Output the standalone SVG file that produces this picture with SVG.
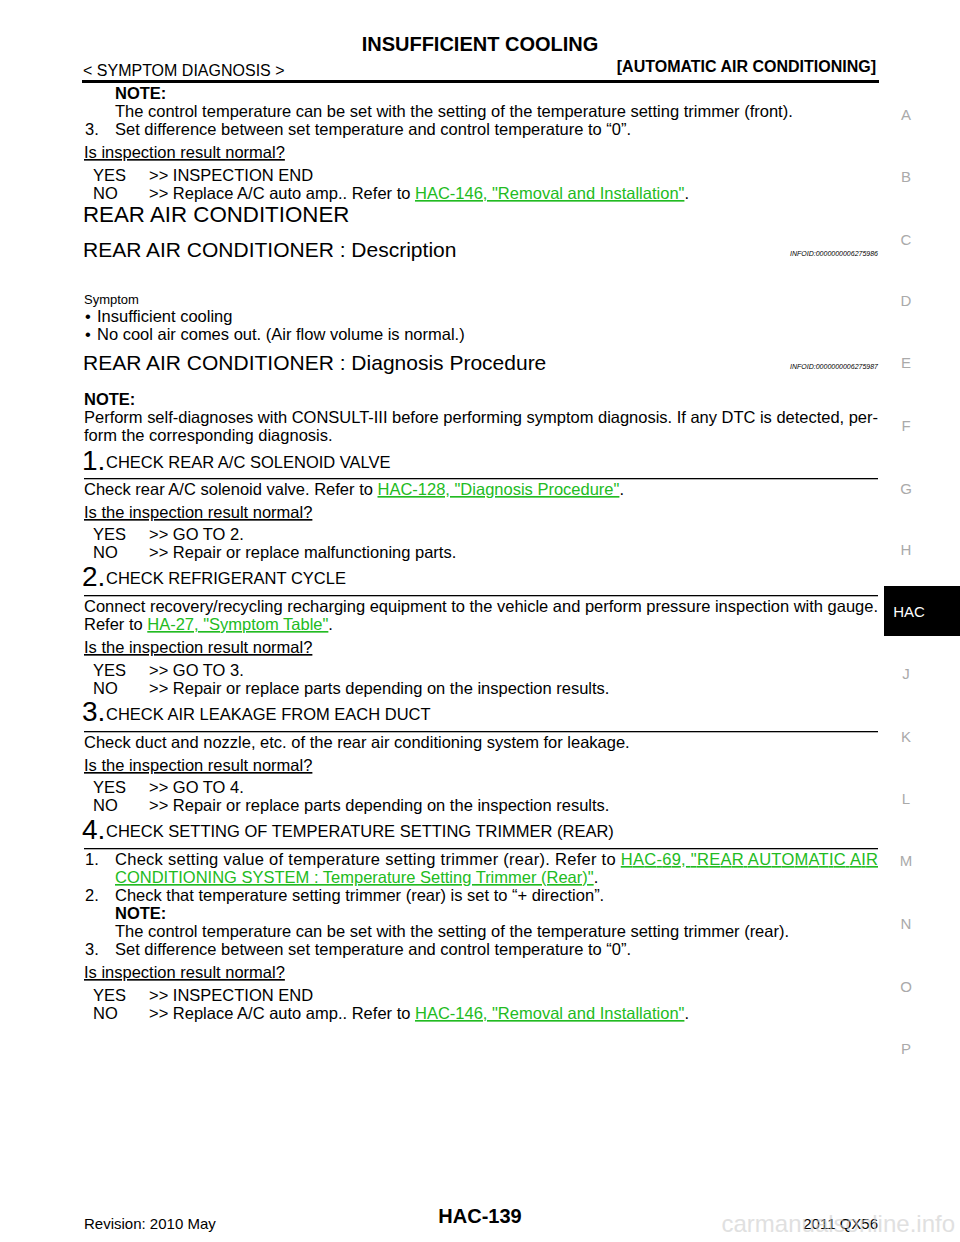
<svg xmlns="http://www.w3.org/2000/svg" width="960" height="1242" viewBox="0 0 960 1242">
<style>
text{font-family:"Liberation Sans",Arial,sans-serif;fill:#000}
.b{font-size:16.5px}
.bb{font-size:16.5px;font-weight:bold}
.h1{font-size:22.3px}
.h2{font-size:21px}
.link{fill:#22bb22;text-decoration:underline}
.u{text-decoration:underline}
.side{font-size:15px;fill:#aaa}
.num{font-size:28px}
.info{font-size:7px;font-style:italic}
</style>
<rect width="960" height="1242" fill="#fff"/>
<g id="header">
<text x="480" y="51" text-anchor="middle" font-size="20" font-weight="bold">INSUFFICIENT COOLING</text>
<text x="83" y="76" font-size="16">&lt; SYMPTOM DIAGNOSIS &gt;</text>
<text x="876" y="72" text-anchor="end" font-size="16" font-weight="bold">[AUTOMATIC AIR CONDITIONING]</text>
<rect x="82" y="80" width="797" height="3" fill="#000"/>
</g>
<g id="side">
<text class="side" x="906" y="120" text-anchor="middle">A</text>
<text class="side" x="906" y="182" text-anchor="middle">B</text>
<text class="side" x="906" y="245" text-anchor="middle">C</text>
<text class="side" x="906" y="306" text-anchor="middle">D</text>
<text class="side" x="906" y="368" text-anchor="middle">E</text>
<text class="side" x="906" y="431" text-anchor="middle">F</text>
<text class="side" x="906" y="494" text-anchor="middle">G</text>
<text class="side" x="906" y="555" text-anchor="middle">H</text>
<rect x="884" y="586" width="76" height="50" fill="#000"/>
<text x="909" y="617" text-anchor="middle" font-size="15" style="fill:#fff">HAC</text>
<text class="side" x="906" y="679" text-anchor="middle">J</text>
<text class="side" x="906" y="742" text-anchor="middle">K</text>
<text class="side" x="906" y="804" text-anchor="middle">L</text>
<text class="side" x="906" y="866" text-anchor="middle">M</text>
<text class="side" x="906" y="929" text-anchor="middle">N</text>
<text class="side" x="906" y="992" text-anchor="middle">O</text>
<text class="side" x="906" y="1054" text-anchor="middle">P</text>
</g>
<g id="body">
<text class="bb" x="115" y="99">NOTE:</text>
<text class="b" x="115" y="117">The control temperature can be set with the setting of the temperature setting trimmer (front).</text>
<text class="b" x="85" y="135">3.</text><text class="b" x="115" y="135">Set difference between set temperature and control temperature to “0”.</text>
<text class="b u" x="84" y="158">Is inspection result normal?</text>
<text class="b" x="93" y="181">YES</text><text class="b" x="149" y="181">&gt;&gt; INSPECTION END</text>
<text class="b" x="93" y="199">NO</text><text class="b" x="149" y="199">&gt;&gt; Replace A/C auto amp.. Refer to <tspan class="link">HAC-146, "Removal and Installation"</tspan>.</text>
<text class="h1" x="83" y="222">REAR AIR CONDITIONER</text>
<text class="h2" x="83" y="257">REAR AIR CONDITIONER : Description</text>
<text class="info" x="878" y="256" text-anchor="end">INFOID:0000000006275986</text>
<text x="84" y="304" font-size="13">Symptom</text>
<text class="b" x="85" y="322">•</text><text class="b" x="97" y="322">Insufficient cooling</text>
<text class="b" x="85" y="340">•</text><text class="b" x="97" y="340">No cool air comes out. (Air flow volume is normal.)</text>
<text class="h2" x="83" y="370">REAR AIR CONDITIONER : Diagnosis Procedure</text>
<text class="info" x="878" y="369" text-anchor="end">INFOID:0000000006275987</text>
<text class="bb" x="84" y="405">NOTE:</text>
<text class="b" x="84" y="423" textLength="794" lengthAdjust="spacing">Perform self-diagnoses with CONSULT-III before performing symptom diagnosis. If any DTC is detected, per-</text>
<text class="b" x="84" y="441">form the corresponding diagnosis.</text>

<text class="num" x="82" y="470">1.</text><text class="b" x="106" y="468">CHECK REAR A/C SOLENOID VALVE</text>
<rect x="84" y="478" width="794" height="1.3" fill="#000"/>
<text class="b" x="84" y="495">Check rear A/C solenoid valve. Refer to <tspan class="link">HAC-128, "Diagnosis Procedure"</tspan>.</text>
<text class="b u" x="84" y="518">Is the inspection result normal?</text>
<text class="b" x="93" y="540">YES</text><text class="b" x="149" y="540">&gt;&gt; GO TO 2.</text>
<text class="b" x="93" y="558">NO</text><text class="b" x="149" y="558">&gt;&gt; Repair or replace malfunctioning parts.</text>

<text class="num" x="82" y="586">2.</text><text class="b" x="106" y="584">CHECK REFRIGERANT CYCLE</text>
<rect x="84" y="595" width="794" height="1.3" fill="#000"/>
<text class="b" x="84" y="612" textLength="794" lengthAdjust="spacing">Connect recovery/recycling recharging equipment to the vehicle and perform pressure inspection with gauge.</text>
<text class="b" x="84" y="630">Refer to <tspan class="link">HA-27, "Symptom Table"</tspan>.</text>
<text class="b u" x="84" y="653">Is the inspection result normal?</text>
<text class="b" x="93" y="676">YES</text><text class="b" x="149" y="676">&gt;&gt; GO TO 3.</text>
<text class="b" x="93" y="694">NO</text><text class="b" x="149" y="694">&gt;&gt; Repair or replace parts depending on the inspection results.</text>

<text class="num" x="82" y="721">3.</text><text class="b" x="106" y="720">CHECK AIR LEAKAGE FROM EACH DUCT</text>
<rect x="84" y="731" width="794" height="1.3" fill="#000"/>
<text class="b" x="84" y="748">Check duct and nozzle, etc. of the rear air conditioning system for leakage.</text>
<text class="b u" x="84" y="771">Is the inspection result normal?</text>
<text class="b" x="93" y="793">YES</text><text class="b" x="149" y="793">&gt;&gt; GO TO 4.</text>
<text class="b" x="93" y="811">NO</text><text class="b" x="149" y="811">&gt;&gt; Repair or replace parts depending on the inspection results.</text>

<text class="num" x="82" y="839">4.</text><text class="b" x="106" y="837">CHECK SETTING OF TEMPERATURE SETTING TRIMMER (REAR)</text>
<rect x="84" y="848" width="794" height="1.3" fill="#000"/>
<text class="b" x="85" y="865">1.</text>
<text class="b" x="115" y="865" textLength="763" lengthAdjust="spacing">Check setting value of temperature setting trimmer (rear). Refer to <tspan class="link">HAC-69, "REAR AUTOMATIC AIR</tspan></text>
<text class="b" x="115" y="883"><tspan class="link">CONDITIONING SYSTEM : Temperature Setting Trimmer (Rear)"</tspan>.</text>
<text class="b" x="85" y="901">2.</text><text class="b" x="115" y="901">Check that temperature setting trimmer (rear) is set to “+ direction”.</text>
<text class="bb" x="115" y="919">NOTE:</text>
<text class="b" x="115" y="937">The control temperature can be set with the setting of the temperature setting trimmer (rear).</text>
<text class="b" x="85" y="955">3.</text><text class="b" x="115" y="955">Set difference between set temperature and control temperature to “0”.</text>
<text class="b u" x="84" y="978">Is inspection result normal?</text>
<text class="b" x="93" y="1001">YES</text><text class="b" x="149" y="1001">&gt;&gt; INSPECTION END</text>
<text class="b" x="93" y="1019">NO</text><text class="b" x="149" y="1019">&gt;&gt; Replace A/C auto amp.. Refer to <tspan class="link">HAC-146, "Removal and Installation"</tspan>.</text>
</g>
<g id="footer">
<text x="84" y="1229" font-size="15">Revision: 2010 May</text>
<text x="480" y="1223" text-anchor="middle" font-size="20" font-weight="bold">HAC-139</text>
<text x="878" y="1229" text-anchor="end" font-size="15">2011 QX56</text>
<text x="955" y="1232" text-anchor="end" font-size="24" style="fill:#ccc;opacity:0.6">carmanualsonline.info</text>
</g>
</svg>
